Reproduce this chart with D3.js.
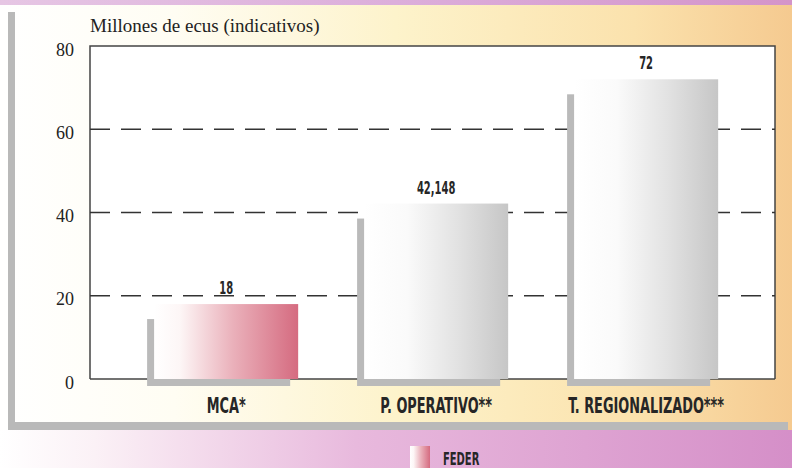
<!DOCTYPE html>
<html>
<head>
    <title>Millones de ecus</title>
    <script src="https://d3js.org/d3.v7.min.js"></script>
    <style>
        html, body { margin: 0; padding: 0; overflow: hidden; background: #fff; }
        svg { display: block; }
    </style>
</head>
<body>
<div id="chart"></div>
<script>
    // Data
    const categories = ["MCA*", "P. OPERATIVO**", "T. REGIONALIZADO***"];
    const values = [18, 42.148, 72];
    const valueLabels = ["18", "42,148", "72"];
    const yTicks = [0, 20, 40, 60, 80];
    const gridTicks = [20, 40, 60];
    const legendLabel = "FEDER";
    const yTitle = "Millones de ecus (indicativos)";

    const W = 792, H = 468;
    const plot = {left: 90, right: 775, top: 46, bottom: 379};
    const SERIF = "'Liberation Serif', 'DejaVu Serif', serif";
    const COND = "'Liberation Sans Narrow', 'DejaVu Sans Condensed', 'Roboto', sans-serif";

    const svg = d3.select("#chart").append("svg")
        .attr("width", W).attr("height", H);

    const defs = svg.append("defs");
    function grad(id, stops) {
        const g = defs.append("linearGradient").attr("id", id)
            .attr("x1", "0%").attr("x2", "100%").attr("y1", "0%").attr("y2", "0%");
        stops.forEach(s => g.append("stop").attr("offset", s[0]).attr("stop-color", s[1]));
    }
    grad("gPinkBg", [["0%", "#ffffff"], ["12%", "#fbf1f6"], ["45%", "#e8b9dd"], ["100%", "#d58fc8"]]);
    grad("gTopStrip", [["0%", "#e6c6e4"], ["50%", "#dcaedb"], ["100%", "#d494c9"]]);
    grad("gYellowBg", [["0%", "#ffffff"], ["22%", "#fffdf3"], ["50%", "#fdf3cb"], ["80%", "#fbe2ad"], ["100%", "#f5ca90"]]);
    grad("gFeder", [["0%", "#ffffff"], ["18%", "#fdf6f6"], ["55%", "#eab0ba"], ["100%", "#d56b80"]]);
    grad("gGray", [["0%", "#ffffff"], ["30%", "#fafafa"], ["65%", "#e2e2e2"], ["100%", "#c6c6c6"]]);

    // Condensed bold text
    function condText(sel, size) {
        sel.style("font-family", COND).style("font-weight", "bold")
            .style("font-size", size + "px").attr("fill", "#262626");
    }

    // Backgrounds
    svg.append("rect").attr("width", W).attr("height", H).attr("fill", "url(#gPinkBg)");
    svg.append("rect").attr("width", W).attr("height", 6).attr("fill", "url(#gTopStrip)");
    svg.append("rect").attr("x", 0).attr("y", 5).attr("width", W).attr("height", 425)
        .attr("fill", "url(#gYellowBg)");

    // Gray frame
    svg.append("rect").attr("x", 8).attr("y", 12).attr("width", 7).attr("height", 418).attr("fill", "#b9b9b9");
    svg.append("rect").attr("x", 8).attr("y", 422).attr("width", 780).attr("height", 8).attr("fill", "#b9b9b9");

    // Scales
    const x = d3.scaleBand().domain(categories)
        .range([plot.left, plot.right])
        .paddingInner(0.314).paddingOuter(0.288).align(0.53);
    const y = d3.scaleLinear().domain([0, 80]).range([plot.bottom, plot.top]);

    // Plot box
    svg.append("rect").attr("x", plot.left).attr("y", plot.top)
        .attr("width", plot.right - plot.left).attr("height", plot.bottom - plot.top)
        .attr("fill", "#fff");
    svg.append("path")
        .attr("d", `M${plot.left},${plot.bottom}V${plot.top}H${plot.right}V${plot.bottom}`)
        .attr("fill", "none").attr("stroke", "#444").attr("stroke-width", 1.5);

    // Dashed grid
    svg.append("g").selectAll("line").data(gridTicks).join("line")
        .attr("x1", plot.left).attr("x2", plot.right)
        .attr("y1", d => y(d)).attr("y2", d => y(d))
        .attr("stroke", "#333").attr("stroke-width", 1.5)
        .attr("stroke-dasharray", "20,11");

    // Zero line
    svg.append("line").attr("x1", plot.left).attr("x2", plot.right)
        .attr("y1", y(0)).attr("y2", y(0))
        .attr("stroke", "#444").attr("stroke-width", 1.5);

    // Bar shadows (L shape)
    const off = 7;
    svg.append("g").selectAll("rect").data(values).join("rect")
        .attr("x", (d, i) => x(categories[i]) - off)
        .attr("y", d => y(d) + 15)
        .attr("width", x.bandwidth() - 1)
        .attr("height", d => y(0) + off - (y(d) + 15))
        .attr("fill", "#bababa");

    // Bars
    svg.append("g").selectAll("rect").data(values).join("rect")
        .attr("x", (d, i) => x(categories[i]))
        .attr("y", d => y(d))
        .attr("width", x.bandwidth())
        .attr("height", d => y(0) - y(d))
        .attr("fill", (d, i) => i === 0 ? "url(#gFeder)" : "url(#gGray)");

    // Category labels
    const catText = svg.append("g").selectAll("text").data(categories).join("text")
        .attr("text-anchor", "middle")
        .text(d => d)
        .call(condText, 22);
    // squeeze so the longest label is about 156px wide, like the print
    const longest = d3.max(catText.nodes(), n => n.getComputedTextLength());
    const sx = Math.min(1, 156 / longest);
    catText.attr("transform", d => `translate(${x(d) + x.bandwidth() / 2},413) scale(${sx},1)`);

    // Value labels
    svg.append("g").selectAll("text").data(values).join("text")
        .attr("text-anchor", "middle")
        .attr("transform", (d, i) => `translate(${x(categories[i]) + x.bandwidth() / 2},${y(d) - 10}) scale(${sx},1)`)
        .text((d, i) => valueLabels[i])
        .call(condText, 17);

    // Y axis labels
    const yAxis = svg.append("g")
        .attr("transform", `translate(${plot.left},0)`)
        .call(d3.axisLeft(y).tickValues(yTicks).tickSize(0).tickPadding(16));
    yAxis.select(".domain").remove();
    yAxis.selectAll("text")
        .style("font-family", SERIF)
        .style("font-size", "18px")
        .attr("fill", "#222")
        .attr("dy", "0.5em");

    // Axis title
    svg.append("text")
        .attr("x", plot.left).attr("y", 32)
        .style("font-family", SERIF).style("font-size", "19px").attr("fill", "#222")
        .text(yTitle);

    // Legend
    svg.append("rect").attr("x", 410).attr("y", 446).attr("width", 20).attr("height", 26)
        .attr("fill", "url(#gFeder)");
    svg.append("text")
        .attr("transform", `translate(443,465) scale(${sx},1)`)
        .text(legendLabel)
        .call(condText, 17);
</script>
</body>
</html>
